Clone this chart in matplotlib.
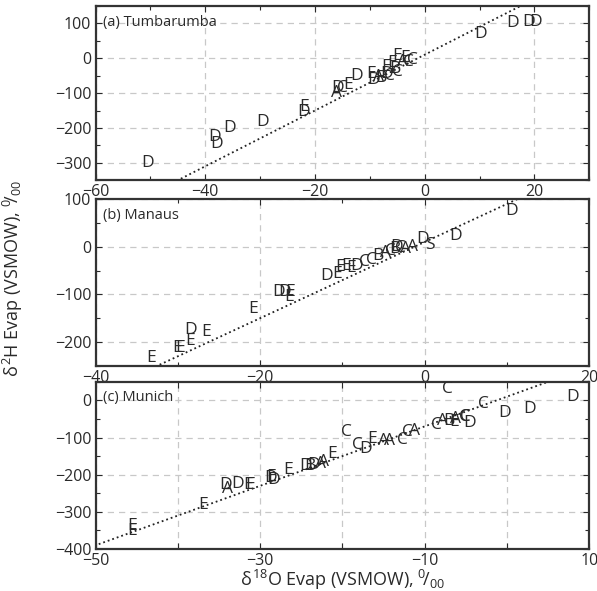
import numpy as np
import matplotlib
matplotlib.use('Agg')
import matplotlib.pyplot as plt
from matplotlib.ticker import MultipleLocator, FuncFormatter

plt.rcParams['font.family'] = ['Open Sans', 'DejaVu Sans']
plt.rcParams['mathtext.fontset'] = 'custom'
plt.rcParams['mathtext.rm'] = 'Open Sans'
plt.rcParams['mathtext.it'] = 'Open Sans'

# (a) Tumbarumba
tumba_lab = ['D', 'D', 'D', 'D', 'D', 'D', 'E', 'A', 'D', 'C', 'E', 'D', 'E', 'D', 'A', 'B', 'C',
             'E', 'C', 'D', 'B', 'E', 'E', 'C', 'A', 'C', 'E', 'D', 'D', 'D', 'D']
tumba_x = [-50.5, -38.3, -38.0, -35.6, -29.5, -22.0, -22.0, -16.0, -15.8, -15.0, -14.0, -12.5, -9.8,
           -9.3, -8.5, -8.0, -6.5, -7.0, -5.0, -7.0, -5.5, -5.0, -3.5, -2.3, -4.0, -3.0, -6.0,
           10.2, 16.0, 19.0, 20.3]
tumba_y = [-300, -225, -245, -200, -183, -155, -140, -100, -85, -85, -78, -50, -45,
           -62, -55, -58, -50, -25, -40, -45, -30, 5, 0, -5, -10, -12, -15,
           70, 100, 105, 105]

# (b) Manaus
manaus_lab = ['E', 'E', 'E', 'E', 'D', 'E', 'E', 'D', 'D', 'E', 'E', 'D', 'E', 'E', 'E', 'E', 'D',
              'C', 'C', 'B', 'A', 'C', 'B', 'D', 'C', 'A', 'D', 'A', 'S', 'D', 'D']
manaus_x = [-33.2, -30.1, -29.7, -28.5, -28.5, -26.5, -20.8, -17.8, -17.0, -16.3, -16.5, -11.9,
            -10.6, -10.3, -9.5, -8.9, -8.3, -7.3, -6.5, -5.7, -4.8, -4.2, -3.6, -3.4, -2.9,
            -2.3, -0.3, -1.5, 0.6, 3.7, 10.6]
manaus_y = [-234, -212, -212, -197, -175, -179, -131, -94, -94, -94, -106, -61,
            -58, -43, -41, -44, -41, -31, -27, -20, -14, -8, -5, 0, -2,
            -4, 16, 0, 3, 22, 76]

# (c) Munich
munich_lab = ['E', 'E', 'E', 'A', 'D', 'D', 'E', 'E', 'D', 'D', 'E', 'E', 'D', 'B', 'D', 'A', 'A',
              'E', 'C', 'C', 'D', 'E', 'A', 'A', 'C', 'C', 'A', 'C', 'A', 'B', 'E', 'A', 'C',
              'C', 'C', 'D', 'C', 'D', 'D', 'D']
munich_x = [-45.6, -45.6, -36.9, -34.0, -34.2, -32.7, -31.5, -31.2, -28.7, -28.4, -28.7, -26.6,
            -24.5, -24.0, -23.5, -22.7, -22.3, -21.2, -19.5, -18.2, -17.2, -16.4, -15.0, -14.3,
            -12.7, -12.1, -11.2, -8.6, -7.8, -7.0, -6.4, -6.2, -5.2, -7.2, -2.9, -4.5, -5.0,
            -0.3, 2.8, 8.0]
munich_y = [-338, -352, -281, -238, -229, -224, -227, -227, -208, -215, -205, -187,
            -177, -177, -175, -170, -165, -144, -85, -119, -130, -104, -108, -108,
            -106, -85, -82, -65, -55, -55, -58, -50, -45, 31, -11, -60, -44,
            -35, -23, 10]

# meteoric water line
mwl_x = np.array([-60, 30])
mwl_y = 8 * mwl_x + 10

fig = plt.figure(figsize=(5.97, 5.91), dpi=100)
left, width = 0.160, 0.827
ax_a = fig.add_axes([left, 0.695, width, 0.295])
ax_b = fig.add_axes([left, 0.381, width, 0.282])
ax_c = fig.add_axes([left, 0.071, width, 0.283])

panels = [
    (ax_a, '(a) Tumbarumba', tumba_lab, tumba_x, tumba_y, (-60, 30), (-350, 150)),
    (ax_b, '(b) Manaus', manaus_lab, manaus_x, manaus_y, (-40, 20), (-250, 100)),
    (ax_c, '(c) Munich', munich_lab, munich_x, munich_y, (-50, 10), (-400, 50)),
]

for ax, title, lab, xs, ys, xl, yl in panels:
    ax.plot(mwl_x, mwl_y, color='#222222', linestyle=':', linewidth=1.3)
    for t, x, y in zip(lab, xs, ys):
        ax.text(x, y, t, ha='center', va='center', fontsize=12.5, color='#2a2a2a', clip_on=True)
    ax.set_xlim(xl)
    ax.set_ylim(yl)
    ax.yaxis.set_major_locator(MultipleLocator(100))
    ax.yaxis.set_minor_locator(MultipleLocator(50))
    ax.text(0.015, 0.95, title, transform=ax.transAxes, ha='left', va='top', fontsize=10.5,
            color='#2a2a2a')
    ax.grid(True, which='major', linestyle=(0, (5, 4)), color='#c8c8c8', linewidth=0.9)
    ax.set_axisbelow(True)
    ax.tick_params(which='both', direction='in', top=True, right=True, labelsize=11.5,
                   colors='#2a2a2a', length=4, width=0.8, pad=3)
    ax.tick_params(which='minor', length=3)
    for s in ax.spines.values():
        s.set_linewidth(1.6)
        s.set_color('#333333')

for ax in (ax_a, ax_b):
    ax.xaxis.set_major_locator(MultipleLocator(20))
    ax.xaxis.set_minor_locator(MultipleLocator(10))

ax_c.xaxis.set_major_locator(MultipleLocator(10))
ax_c.xaxis.set_major_formatter(FuncFormatter(
    lambda v, p: ('\u2212%d' % abs(v) if v < 0 else '%d' % v) if int(round(v)) in (-50, -30, -10, 10) else ''))

ax_c.set_xlabel(r'$\delta^{18}$O Evap (VSMOW), $^{0}\!/_{00}$', fontsize=13, labelpad=-1,
                color='#2a2a2a')
fig.text(0.022, 0.53, r'$\delta^{2}$H Evap (VSMOW), $^{0}\!/_{00}$', rotation=90, fontsize=13,
         ha='center', va='center', color='#2a2a2a')

plt.savefig('out.png', dpi=100)
